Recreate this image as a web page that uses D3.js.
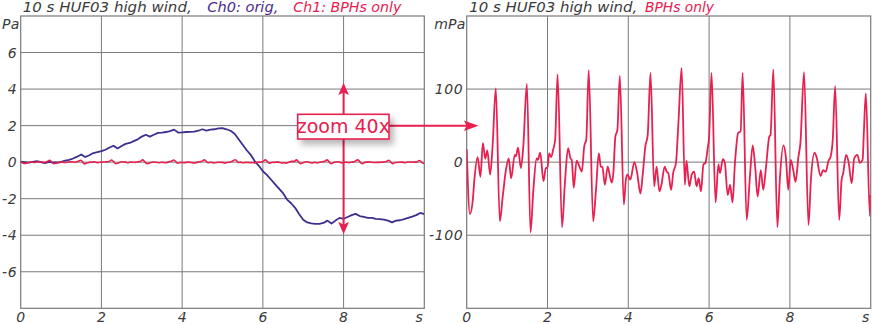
<!DOCTYPE html>
<html><head><meta charset="utf-8">
<script src="https://cdn.jsdelivr.net/npm/d3@7"></script>
<style>
body{margin:0;background:#fff}
svg{display:block}
text{font-family:"DejaVu Sans",sans-serif}
</style>
</head><body>
<svg id="c" width="872" height="324"></svg>
<script>
// ---------- DATA ----------
const ch0Time = [0,0.1,0.2,0.3,0.4,0.5,0.6,0.7,0.8,0.9,1.0,1.1,1.2,1.3,1.4,1.5,1.6,1.7,1.8,1.9,2.0,2.1,2.2,2.3,2.4,2.5,2.6,2.7,2.8,2.9,3.0,3.1,3.2,3.3,3.4,3.5,3.6,3.7,3.8,3.9,4.0,4.1,4.2,4.3,4.4,4.5,4.6,4.7,4.8,4.9,5.0,5.1,5.2,5.3,5.4,5.5,5.6,5.7,5.8,5.9,6.0,6.1,6.2,6.3,6.4,6.5,6.6,6.7,6.8,6.9,7.0,7.1,7.2,7.3,7.4,7.5,7.6,7.7,7.8,7.9,8.0,8.1,8.2,8.3,8.4,8.5,8.6,8.7,8.8,8.9,9.0,9.1,9.2,9.3,9.4,9.5,9.6,9.7,9.8,9.9,10.0];
const ch0Pa = [0.03,0.0,-0.03,0.02,0.05,0.0,-0.05,0.02,-0.02,-0.02,0.02,0.08,0.12,0.2,0.3,0.42,0.28,0.38,0.5,0.55,0.6,0.68,0.8,0.9,0.75,0.88,1.0,1.05,1.15,1.25,1.4,1.5,1.4,1.5,1.6,1.62,1.65,1.7,1.78,1.62,1.63,1.65,1.66,1.67,1.72,1.8,1.73,1.78,1.8,1.85,1.86,1.8,1.72,1.55,1.25,0.95,0.65,0.4,0.05,-0.2,-0.5,-0.7,-0.95,-1.2,-1.45,-1.7,-2.05,-2.25,-2.5,-2.85,-3.15,-3.3,-3.35,-3.38,-3.38,-3.33,-3.2,-3.36,-3.2,-3.05,-3.1,-3.0,-2.9,-2.83,-2.95,-3.0,-3.05,-3.05,-3.1,-3.12,-3.15,-3.2,-3.3,-3.2,-3.18,-3.12,-3.05,-2.98,-2.9,-2.78,-2.84];

const bphTime = [0.00,0.08,0.15,0.19,0.27,0.34,0.40,0.46,0.51,0.58,0.64,0.72,0.82,0.89,0.97,1.04,1.10,1.19,1.22,1.27,1.34,1.40,1.49,1.58,1.65,1.73,1.76,1.82,1.90,1.96,2.00,2.04,2.09,2.14,2.19,2.25,2.36,2.43,2.51,2.57,2.60,2.65,2.72,2.79,2.85,2.91,2.96,3.02,3.13,3.20,3.27,3.32,3.36,3.42,3.49,3.53,3.59,3.63,3.68,3.73,3.79,3.89,3.94,3.98,4.05,4.15,4.22,4.30,4.36,4.42,4.48,4.55,4.64,4.70,4.77,4.82,4.90,4.95,4.99,5.06,5.11,5.18,5.24,5.32,5.40,5.44,5.51,5.57,5.63,5.69,5.74,5.80,5.86,5.91,5.96,6.00,6.06,6.16,6.23,6.27,6.34,6.39,6.46,6.52,6.58,6.64,6.72,6.78,6.83,6.93,7.01,7.08,7.14,7.20,7.28,7.34,7.41,7.49,7.52,7.59,7.69,7.75,7.84,7.90,7.96,8.02,8.09,8.14,8.21,8.26,8.35,8.46,8.52,8.61,8.66,8.76,8.82,8.89,8.95,9.01,9.06,9.12,9.22,9.28,9.32,9.39,9.45,9.53,9.59,9.67,9.73,9.80,9.83,9.88,9.98,10.00];
const bphMilliPa = [18,-71,-52,-24,7,-20,26,5,16,-17,21,101,-81,-48,-11,5,-22,10,8,20,-8,21,107,-96,-38,5,3,13,-26,-8,-8,12,7,17,31,120,-89,-29,19,5,3,-35,2,-6,-13,22,31,126,-81,-38,12,-6,-7,-31,-6,-15,-28,-15,35,44,118,-58,-24,-17,-24,0,-15,-43,-15,21,37,122,-33,-6,-40,-31,-6,-13,-15,-38,-15,-1,53,129,-31,2,-33,-17,-13,-33,-22,-40,-3,-1,17,35,122,-55,-3,-15,4,-1,-45,-31,-55,-1,40,42,122,-79,-20,23,-6,-47,-11,-38,-6,35,37,127,-89,-24,23,7,-38,3,-13,-27,7,26,123,-86,-24,13,7,-19,-11,-13,1,8,30,104,-79,-24,-15,10,1,-29,5,10,-1,3,40,94,-74,-45];

const xTicks = [0,2,4,6,8];
const xEndLabel = "s";
const yTicksLeft = [-6,-4,-2,0,2,4,6];
const yTicksRight = [-100,0,100];
const yUnitLeft = "Pa";
const yUnitRight = "mPa";
const titleLeft = ["10 s HUF03 high wind,", "Ch0: orig,", "Ch1: BPHs only"];
const titleRight = ["10 s HUF03 high wind,", "BPHs only"];
const zoomLabel = "zoom 40x";

// ---------- STYLE ----------
const BLUE = "#3a2f8f", RED = "#e8204f", GRID = "#7a7a7a", TXT = "#3a3a3a";

const svg = d3.select("#c");
const defs = svg.append("defs");
const f = defs.append("filter").attr("id","sh").attr("x","-20%").attr("y","-30%").attr("width","150%").attr("height","180%");
f.append("feDropShadow").attr("dx",4).attr("dy",5).attr("stdDeviation",3).attr("flood-color","#000").attr("flood-opacity",0.28);

const xL = d3.scaleLinear([0,10],[20.7,424.3]);
const yL = d3.scaleLinear([-8,8],[308.3,16]);
const xR = d3.scaleLinear([0,10],[466.7,870.7]);
const yR = d3.scaleLinear([-200,200],[308.3,16]);

const fmt = d3.formatLocale({decimal:".",thousands:",",grouping:[3],currency:["",""],minus:"-"}).format("");

function panel(x, y, yTicks, unit){
  const g = svg.append("g");
  const [x0,x1] = x.range(), [y0,y1] = y.range();
  g.selectAll(".vg").data(xTicks.slice(1)).join("line")
    .attr("x1",d=>x(d)).attr("x2",d=>x(d)).attr("y1",y1).attr("y2",y0)
    .attr("stroke",GRID).attr("stroke-width",1);
  g.selectAll(".hg").data(yTicks).join("line")
    .attr("x1",x0).attr("x2",x1).attr("y1",d=>y(d)).attr("y2",d=>y(d))
    .attr("stroke",GRID).attr("stroke-width",1);
  g.append("rect").attr("x",x0).attr("y",y1).attr("width",x1-x0).attr("height",y0-y1)
    .attr("fill","none").attr("stroke",GRID).attr("stroke-width",1.2);
  g.selectAll(".yl").data(yTicks).join("text")
    .attr("x",x0-3.5).attr("y",d=>y(d)).attr("dy","0.36em")
    .attr("text-anchor","end").attr("font-size",14).attr("font-style","italic")
    .attr("letter-spacing",0.6).attr("fill",TXT).text(d=>fmt(d));
  g.append("text").attr("x",x0-1).attr("y",y1+13).attr("text-anchor","end")
    .attr("font-size",14).attr("font-style","italic").attr("letter-spacing",0.3).attr("fill",TXT).text(unit);
  g.selectAll(".xl").data(xTicks).join("text")
    .attr("x",d=>x(d)).attr("y",322).attr("text-anchor","middle")
    .attr("font-size",14).attr("font-style","italic").attr("fill",TXT).text(d=>d);
  g.append("text").attr("x",x(10)-1.5).attr("y",322).attr("text-anchor","end")
    .attr("font-size",14).attr("font-style","italic").attr("fill",TXT).text(xEndLabel);
  return g;
}

panel(xL, yL, yTicksLeft, yUnitLeft);
panel(xR, yR, yTicksRight, yUnitRight);

defs.append("clipPath").attr("id","cl").append("rect").attr("x",20.7).attr("y",16).attr("width",403.6).attr("height",292.3);
defs.append("clipPath").attr("id","cr").append("rect").attr("x",466.7).attr("y",16).attr("width",404).attr("height",292.3);

const ch0 = ch0Time.map((t,i)=>[t,ch0Pa[i]]);
const ch1 = bphTime.map((t,i)=>[t,bphMilliPa[i]/1000]);
const lineL = d3.line().x(d=>xL(d[0])).y(d=>yL(d[1])).curve(d3.curveLinear);
svg.append("path").attr("clip-path","url(#cl)").attr("d",lineL(ch0)).attr("fill","none").attr("stroke",BLUE).attr("stroke-width",1.8).attr("stroke-linejoin","round");
svg.append("path").attr("clip-path","url(#cl)").attr("d",lineL.curve(d3.curveMonotoneX)(ch1)).attr("fill","none").attr("stroke",RED).attr("stroke-width",1.6);

const bph = bphTime.map((t,i)=>[t,bphMilliPa[i]]);
const lineR = d3.line().x(d=>xR(d[0])).y(d=>yR(d[1])).curve(d3.curveMonotoneX);
svg.append("path").attr("clip-path","url(#cr)").attr("d",lineR(bph)).attr("fill","none").attr("stroke",RED).attr("stroke-width",1.8).attr("stroke-linejoin","round");

function title(parts, cols, xs, ws){
  parts.forEach((p,i)=>{
    svg.append("text").attr("x",xs[i]).attr("y",11.5).attr("font-size",14).attr("font-style","italic")
      .attr("fill",cols[i]).attr("textLength",ws[i]).attr("lengthAdjust","spacingAndGlyphs").text(p);
  });
}
title(titleLeft, [TXT,"#4a2b8c",RED], [22.7,207.3,293.3], [169,71,108]);
title(titleRight, [TXT,RED], [469.3,645], [168,69]);

const ax = xL(8);
const ann = svg.append("g");
ann.append("line").attr("x1",ax).attr("x2",ax).attr("y1",92).attr("y2",225).attr("stroke",RED).attr("stroke-width",2);
ann.append("path").attr("d",`M${ax},82.7 L${ax+5.3},95 L${ax},92.5 L${ax-5.3},95 Z`).attr("fill",RED);
ann.append("path").attr("d",`M${ax},234.3 L${ax+5.3},222 L${ax},224.5 L${ax-5.3},222 Z`).attr("fill",RED);
ann.append("line").attr("x1",389).attr("x2",468).attr("y1",125.7).attr("y2",125.7).attr("stroke",RED).attr("stroke-width",2);
ann.append("path").attr("d",`M478.5,125.7 L464,120.5 L466.5,125.7 L464,130.9 Z`).attr("fill",RED);
ann.append("rect").attr("x",297.7).attr("y",114.3).attr("width",91.3).attr("height",24.7)
  .attr("fill","#fff").attr("stroke",RED).attr("stroke-width",1.6).attr("filter","url(#sh)");
ann.append("text").attr("x",343.3).attr("y",132.8).attr("text-anchor","middle")
  .attr("font-family","'Liberation Sans',Arial,sans-serif").attr("font-size",19).attr("fill",RED).text(zoomLabel);
</script>
</body></html>
